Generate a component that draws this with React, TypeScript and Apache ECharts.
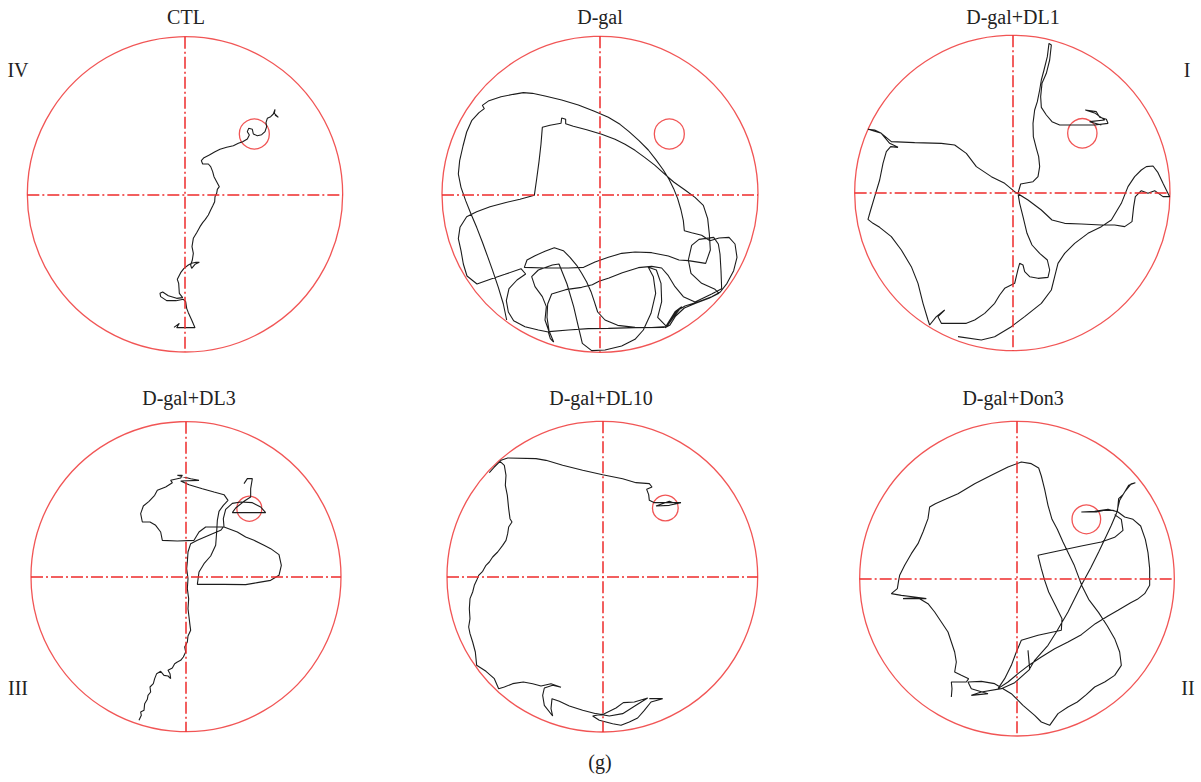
import React, { useEffect, useRef } from "react";
import * as echarts from "echarts";

// ---------- data (tracker coordinates, y grows downward) ----------
const titles = ["CTL", "D-gal", "D-gal+DL1", "D-gal+DL3", "D-gal+DL10", "D-gal+Don3"];
const quadrantLabels = ["IV", "I", "III", "II"];
const footLabel = "(g)";

const poolCenters = [[495, 493], [495, 493], [493, 489], [486, 494], [499, 494], [507, 500]];
const poolRadii = [473, 474, 473, 465, 466, 472];
const platformCenters = [[703, 312], [703, 312], [703, 310], [676, 290], [688, 288], [715, 322]];
const platformDiameters = [90, 90, 88, 75, 77, 86];

const ctlTrack = [
  [462, 892], [478, 880], [470, 893], [525, 893], [515, 870], [505, 848], [500, 835], [497, 815], [490, 808],
  [468, 812], [440, 812], [422, 800], [420, 790], [428, 786], [445, 797], [470, 805], [488, 803], [478, 790],
  [476, 760], [472, 748], [482, 728], [492, 715], [505, 705], [515, 700], [528, 697], [538, 697], [525, 703],
  [515, 715], [512, 705], [517, 690], [520, 670], [516, 650], [520, 625], [530, 608], [540, 590], [548, 578],
  [556, 568], [565, 555], [572, 540], [578, 528], [584, 515], [585, 500], [590, 490], [592, 478], [598, 470],
  [590, 455], [582, 440], [578, 425], [572, 410], [565, 402], [548, 402], [544, 392], [552, 383], [568, 375],
  [585, 365], [600, 358], [620, 352], [640, 347], [655, 340], [668, 335], [682, 327], [688, 315], [682, 305],
  [686, 295], [697, 298], [700, 312], [712, 317], [725, 314], [735, 305], [740, 290], [738, 278], [742, 265],
  [752, 260], [760, 252], [765, 238], [763, 250], [775, 262], [765, 255],
];

const dgalTrack = [
  [215, 870], [205, 822], [190, 772], [173, 722], [158, 680], [142, 636], [125, 592], [108, 552], [92, 512],
  [78, 472], [70, 432], [74, 392], [84, 348], [95, 306], [110, 272], [132, 248], [148, 236], [142, 226],
  [162, 212], [198, 200], [235, 193], [265, 188], [292, 190], [330, 198], [380, 210], [430, 225], [478, 244],
  [520, 262], [555, 283], [582, 305], [612, 332], [640, 360], [662, 388], [685, 420], [702, 448], [716, 476],
  [728, 506], [738, 540], [745, 572], [748, 602], [770, 608], [800, 616], [825, 632], [852, 624], [882, 622],
  [900, 642], [906, 682], [896, 722], [876, 760], [856, 786], [830, 800], [790, 815], [750, 828], [726, 842],
  [710, 866], [696, 890], [650, 893], [600, 892], [548, 886], [510, 870], [488, 846], [478, 815], [468, 785],
  [455, 756], [440, 730], [425, 706], [405, 682], [385, 662], [358, 653], [330, 664], [300, 677], [276, 690],
  [268, 712], [330, 714], [400, 714], [446, 712], [480, 696], [520, 682], [560, 670], [600, 666], [650, 668],
  [700, 678], [732, 690], [760, 692], [812, 700], [826, 660], [823, 612], [818, 566], [805, 526], [780, 502],
  [750, 480], [716, 456], [690, 433], [660, 406], [630, 383], [600, 361], [570, 343], [540, 328], [500, 313],
  [455, 299], [415, 289], [392, 281], [392, 268], [380, 264], [378, 280], [345, 286], [322, 292], [318, 342],
  [312, 395], [305, 447], [298, 496], [255, 508], [210, 518], [165, 530], [125, 545], [95, 560], [75, 592],
  [70, 626], [78, 662], [85, 702], [96, 738], [126, 762], [166, 748], [210, 733], [258, 716], [272, 732],
  [246, 750], [222, 776], [214, 812], [220, 846], [236, 872], [270, 890], [310, 900], [340, 906], [346, 926],
  [356, 936], [342, 902], [336, 862], [338, 822], [350, 792], [392, 779], [440, 772], [472, 764], [492, 754],
  [522, 744], [562, 728], [610, 713], [650, 709], [680, 714], [700, 737], [720, 770], [745, 800], [780, 816],
  [830, 792], [860, 776], [858, 722], [855, 672], [850, 642], [836, 622], [792, 628], [770, 646], [760, 690],
  [768, 730], [800, 760], [840, 778], [852, 790], [822, 805], [782, 820], [748, 834], [722, 858], [704, 886],
  [690, 893], [720, 845], [740, 830], [715, 862], [695, 890], [668, 862], [680, 815], [678, 760], [664, 720],
  [640, 712], [655, 740], [662, 790], [648, 850], [625, 900], [600, 928], [560, 948], [510, 960], [470, 962],
  [442, 940], [430, 890], [416, 830], [396, 762], [372, 702], [352, 705], [310, 720], [290, 740], [300, 770],
  [322, 800], [334, 830], [330, 870], [342, 905], [400, 900], [460, 896], [520, 895], [600, 893], [688, 892],
];

const dl1Track = [
  [330, 920], [400, 930], [440, 920], [490, 890], [530, 860], [580, 820], [610, 780], [620, 740], [630, 700],
  [650, 670], [680, 640], [720, 610], [760, 590], [790, 570], [820, 520], [840, 470], [860, 440], [880, 420],
  [895, 410], [915, 408], [930, 428], [945, 460], [965, 500], [945, 500], [920, 482], [900, 490], [880, 482],
  [862, 500], [857, 530], [852, 575], [830, 590], [800, 585], [760, 585], [700, 582], [650, 580], [612, 570],
  [580, 540], [540, 510], [500, 485], [470, 460], [430, 440], [385, 410], [355, 370], [320, 345], [280, 340],
  [200, 338], [130, 335], [100, 310], [80, 300], [60, 298], [100, 310], [125, 340], [150, 352], [128, 350],
  [115, 365], [105, 400], [95, 450], [80, 500], [68, 540], [60, 568], [75, 580], [95, 592], [130, 620],
  [160, 660], [190, 710], [210, 760], [225, 820], [240, 870], [245, 885], [265, 860], [290, 840], [270, 860],
  [280, 880], [355, 880], [380, 870], [410, 850], [440, 820], [455, 795], [470, 775], [500, 760], [510, 718],
  [515, 700], [525, 705], [530, 725], [545, 740], [570, 745], [600, 742], [605, 720], [598, 690], [575, 670],
  [552, 645], [537, 610], [525, 560], [515, 520], [510, 490], [518, 462], [555, 455], [570, 440], [575, 410],
  [572, 380], [565, 355], [556, 320], [555, 280], [560, 240], [568, 215], [575, 180], [580, 150], [588, 120],
  [598, 80], [603, 40], [610, 45], [605, 90], [595, 130], [582, 160], [578, 200], [580, 232], [595, 255],
  [612, 275], [635, 285], [700, 285], [740, 285], [780, 280], [775, 268], [755, 262], [745, 245], [712, 240],
  [742, 250], [770, 270], [725, 275], [760, 285],
];

const dl3Track = [
  [345, 925], [352, 910], [350, 900], [360, 895], [362, 875], [370, 862], [372, 850], [380, 840], [378, 825],
  [388, 815], [392, 800], [398, 785], [410, 778], [420, 790], [432, 792], [440, 800], [438, 785], [432, 775],
  [445, 768], [452, 755], [460, 750], [470, 745], [478, 735], [485, 720], [482, 705], [490, 690], [492, 672],
  [500, 655], [498, 640], [495, 615], [492, 590], [494, 560], [490, 530], [492, 500], [488, 470], [490, 450],
  [492, 420], [500, 395], [520, 385], [555, 370], [590, 355], [598, 345], [575, 345], [545, 345], [525, 360],
  [510, 385], [460, 387], [415, 385], [410, 360], [395, 340], [378, 330], [355, 330], [350, 305], [358, 282],
  [375, 268], [392, 250], [400, 235], [425, 225], [445, 212], [440, 205], [470, 198], [475, 190], [460, 190],
  [500, 200], [525, 205], [470, 207], [495, 218], [535, 230], [570, 240], [600, 248], [612, 265], [598, 280],
  [585, 298], [580, 325], [578, 360], [575, 400], [560, 432], [540, 455], [525, 480], [520, 517], [600, 517],
  [665, 518], [700, 512], [740, 505], [765, 490], [772, 460], [765, 428], [740, 410], [720, 400], [690, 385],
  [665, 375], [640, 360], [600, 345], [598, 320], [605, 292], [625, 274], [650, 270], [685, 272], [710, 285],
  [725, 302], [625, 302], [635, 288], [660, 268], [680, 255], [680, 230], [685, 200], [670, 200], [660, 215],
];

const dl10Track = [
  [640, 860], [680, 860], [645, 870], [625, 895], [605, 918], [580, 930], [555, 940], [530, 935], [490, 925],
  [470, 912], [505, 905], [540, 888], [562, 872], [595, 870], [635, 858], [600, 880], [560, 905], [520, 912],
  [480, 905], [440, 895], [400, 882], [370, 868], [348, 860], [345, 890], [350, 912], [325, 880], [320, 850],
  [325, 828], [350, 820], [375, 826], [345, 815], [315, 822], [290, 815], [262, 810], [230, 815], [205, 825],
  [188, 830], [175, 800], [150, 778], [122, 760], [120, 740], [118, 720], [110, 690], [102, 665], [98, 645],
  [102, 620], [100, 590], [102, 560], [110, 540], [115, 520], [122, 505], [128, 490], [140, 478], [150, 460],
  [160, 450], [170, 435], [185, 420], [200, 400], [210, 385], [215, 365], [218, 345], [228, 330], [222, 320],
  [218, 290], [214, 250], [208, 220], [210, 190], [205, 160], [192, 148], [175, 165], [160, 182], [178, 162],
  [195, 145], [215, 138], [300, 140], [330, 145], [380, 160], [440, 175], [500, 188], [560, 200], [600, 212],
  [640, 215], [648, 225], [632, 232], [638, 248], [640, 265], [655, 272], [690, 272], [735, 272], [700, 280],
  [660, 282], [700, 268], [720, 275],
];

const don3Track = [
  [310, 855], [312, 830], [310, 810], [355, 810], [362, 800], [340, 790], [320, 780], [325, 750], [320, 720],
  [310, 690], [300, 660], [280, 630], [260, 600], [240, 575], [210, 557], [165, 560], [235, 560], [200, 555],
  [160, 550], [130, 545], [148, 530], [152, 505], [155, 490], [170, 460], [190, 425], [210, 395], [225, 360],
  [240, 320], [245, 285], [262, 275], [292, 262], [330, 245], [380, 215], [430, 190], [480, 165], [520, 150],
  [550, 155], [572, 168], [580, 192], [590, 232], [600, 280], [612, 322], [628, 352], [645, 390], [662, 425],
  [678, 458], [690, 490], [702, 522], [722, 562], [752, 602], [778, 642], [800, 680], [815, 720], [820, 760],
  [800, 790], [770, 810], [740, 825], [715, 848], [688, 870], [660, 885], [630, 905], [605, 940], [580, 930],
  [560, 910], [525, 880], [490, 845], [465, 830], [440, 815], [400, 808], [360, 810], [370, 830], [420, 845],
  [370, 850], [400, 840], [460, 830], [500, 812], [545, 772], [540, 715], [545, 770], [560, 745], [600, 700],
  [625, 660], [660, 600], [700, 520], [728, 468], [752, 420], [772, 378], [790, 340], [806, 302], [815, 265],
  [830, 240], [850, 215], [862, 212], [842, 220], [825, 248], [812, 260], [808, 300], [795, 295], [770, 295],
  [745, 300], [700, 300], [740, 298], [780, 292], [810, 300], [830, 315], [855, 322], [878, 342], [892, 382],
  [900, 422], [905, 470], [905, 520], [890, 545], [868, 562], [848, 572], [810, 595], [780, 612], [742, 635],
  [700, 668], [660, 690], [620, 710], [580, 735], [545, 758], [510, 785], [480, 810], [450, 830], [470, 800],
  [490, 760], [505, 720], [520, 685], [570, 670], [605, 662], [640, 655], [642, 620], [622, 580], [602, 540],
  [590, 505], [580, 470], [570, 430], [640, 415], [700, 402], [760, 390], [800, 376], [825, 355], [820, 322],
  [800, 308],
];

const tracks = [ctlTrack, dgalTrack, dl1Track, dl3Track, dl10Track, don3Track];

// ---------- layout ----------
const panelOrigins = [[20, 30], [435, 30], [848, 30], [24, 412], [436, 412], [848, 412]];
const PX = 3; // tracker units per screen pixel
const titlePos = [[186, 17], [600, 17], [1013, 17], [189, 398], [601, 398], [1013, 398]];
const quadrantPos = [[18, 70], [1187, 70], [18, 688], [1188, 688]];
const RED = "#ee2b2b";
const FONT = "'Liberation Serif', 'DejaVu Serif', serif";

export default function App() {
  const ref = useRef<HTMLDivElement>(null);
  useEffect(() => {
    if (!ref.current) return;
    const chart = echarts.init(ref.current, undefined, { renderer: "svg" });
    const grid: any[] = [];
    const xAxis: any[] = [];
    const yAxis: any[] = [];
    const series: any[] = [];
    titles.forEach((_, i) => {
      const [ox, oy] = panelOrigins[i];
      const [cx, cy] = poolCenters[i];
      const r = poolRadii[i];
      const size = (2 * r) / PX;
      grid.push({ left: ox + (cx - r) / PX, top: oy + (cy - r) / PX, width: size, height: size });
      xAxis.push({ type: "value", gridIndex: i, min: cx - r, max: cx + r, show: false });
      yAxis.push({ type: "value", gridIndex: i, min: cy - r, max: cy + r, inverse: true, show: false });
      series.push({
        type: "scatter",
        xAxisIndex: i,
        yAxisIndex: i,
        data: [poolCenters[i]],
        symbol: "circle",
        symbolSize: size,
        silent: true,
        clip: false,
        z: 1,
        itemStyle: { color: "rgba(0,0,0,0)", borderColor: RED, borderWidth: 1.3 },
        markLine: {
          silent: true,
          symbol: ["none", "none"],
          label: { show: false },
          lineStyle: { color: RED, width: 1.5, type: [12, 3, 2, 3] },
          data: [{ xAxis: cx }, { yAxis: cy }],
        },
      });
      series.push({
        type: "scatter",
        xAxisIndex: i,
        yAxisIndex: i,
        data: [platformCenters[i]],
        symbol: "circle",
        symbolSize: platformDiameters[i] / PX,
        silent: true,
        clip: false,
        z: 2,
        itemStyle: { color: "rgba(0,0,0,0)", borderColor: RED, borderWidth: 1.3 },
      });
      series.push({
        type: "line",
        xAxisIndex: i,
        yAxisIndex: i,
        data: tracks[i],
        showSymbol: false,
        symbol: "none",
        silent: true,
        clip: false,
        z: 3,
        lineStyle: { color: "#1c1c1c", width: 1.1 },
      });
    });
    const textStyle = (text: string, x: number, y: number) => ({
      type: "text",
      x,
      y,
      style: {
        text,
        fill: "#222",
        font: `20px ${FONT}`,
        textAlign: "center",
        textVerticalAlign: "middle",
      },
    });
    const graphic: any[] = [];
    titles.forEach((t, i) => graphic.push(textStyle(t, titlePos[i][0], titlePos[i][1])));
    quadrantLabels.forEach((t, i) => graphic.push(textStyle(t, quadrantPos[i][0], quadrantPos[i][1])));
    graphic.push(textStyle(footLabel, 600, 762));
    chart.setOption({
      animation: false,
      backgroundColor: "#ffffff",
      grid,
      xAxis,
      yAxis,
      series,
      graphic,
    });
    return () => chart.dispose();
  }, []);
  return (
    <div
      ref={ref}
      style={{ position: "fixed", left: 0, top: 0, width: 1201, height: 782, background: "#fff" }}
    />
  );
}
